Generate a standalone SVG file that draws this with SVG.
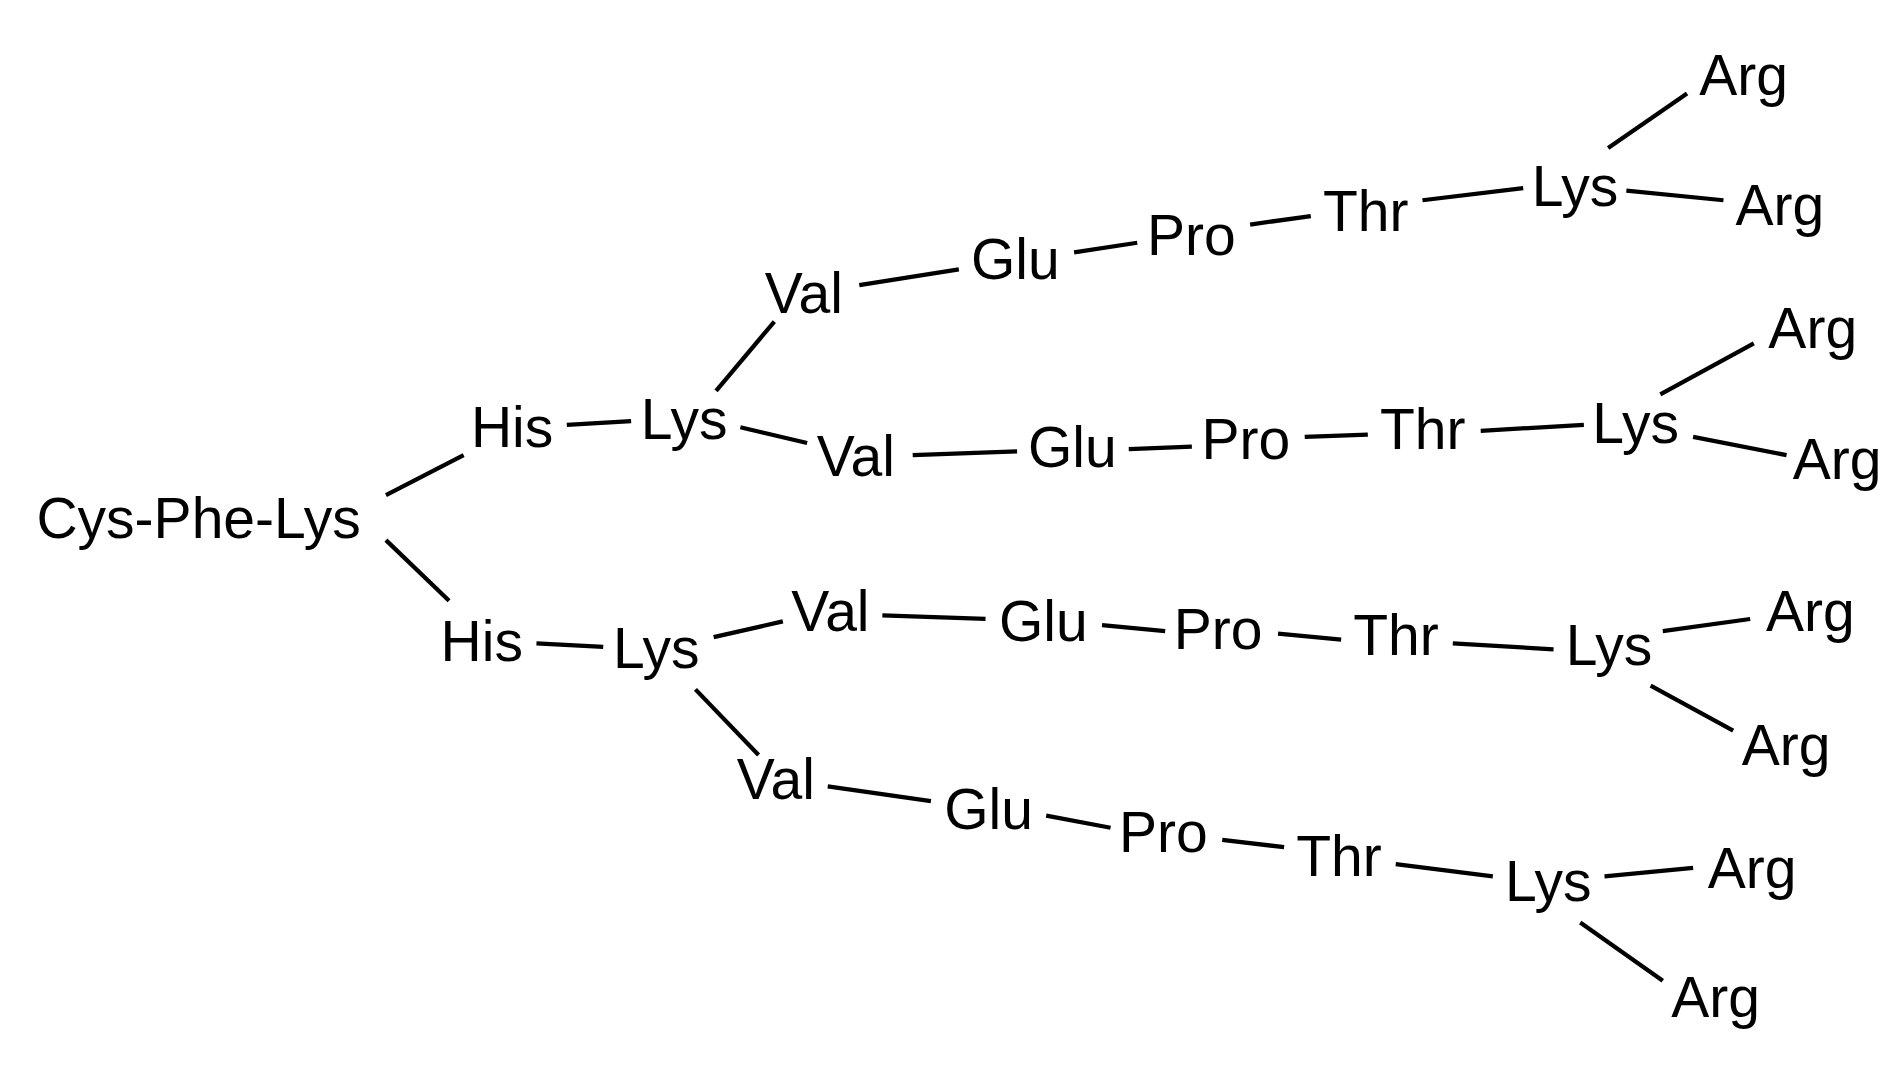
<svg xmlns="http://www.w3.org/2000/svg" width="1903" height="1065" viewBox="0 0 1903 1065">
<style>
text{font-family:"Liberation Sans",Arial,sans-serif;font-size:47px;fill:#000}
line{stroke:#000;stroke-width:3.5;stroke-linecap:butt}
</style>
<rect width="1903" height="1065" fill="#fff"/>
<g transform="scale(1.2137)">
<g id="connectors">
<line x1="318" y1="408" x2="382" y2="375"/><line x1="318" y1="445" x2="370" y2="495"/>
<line x1="467" y1="350" x2="520" y2="347"/><line x1="442" y1="530" x2="497" y2="533"/>
<line x1="590" y1="322" x2="638" y2="265"/><line x1="610" y1="352" x2="665" y2="365"/>
<line x1="588" y1="525" x2="645" y2="512"/><line x1="573" y1="568" x2="625" y2="622"/>
<line x1="708" y1="235" x2="790" y2="222"/><line x1="885" y1="208" x2="937" y2="200"/><line x1="1030" y1="185" x2="1080" y2="178"/><line x1="1172" y1="165" x2="1255" y2="155"/><line x1="1340" y1="157" x2="1420" y2="165"/><line x1="1325" y1="122" x2="1390" y2="77"/>
<line x1="752" y1="375" x2="838" y2="372"/><line x1="930" y1="370" x2="982" y2="368"/><line x1="1075" y1="360" x2="1127" y2="358"/><line x1="1220" y1="355" x2="1305" y2="350"/><line x1="1368" y1="325" x2="1445" y2="283"/><line x1="1395" y1="360" x2="1472" y2="375"/>
<line x1="727" y1="507" x2="812" y2="510"/><line x1="908" y1="515" x2="960" y2="520"/><line x1="1053" y1="522" x2="1105" y2="527"/><line x1="1197" y1="530" x2="1280" y2="535"/><line x1="1370" y1="520" x2="1442" y2="510"/><line x1="1360" y1="565" x2="1428" y2="602"/>
<line x1="682" y1="648" x2="767" y2="660"/><line x1="862" y1="672" x2="915" y2="682"/><line x1="1007" y1="692" x2="1058" y2="698"/><line x1="1150" y1="712" x2="1230" y2="722"/><line x1="1322" y1="722" x2="1395" y2="715"/><line x1="1302" y1="760" x2="1370" y2="808"/>
</g>
<g id="n-core"><text x="30" y="443">Cys-Phe-Lys</text></g>
<g id="n-his1"><text x="388" y="368">His</text></g>
<g id="n-his2"><text x="363" y="545">His</text></g>
<g id="n-lys1"><text x="528" y="362">Lys</text></g>
<g id="n-lys2"><text x="505" y="550">Lys</text></g>
<g id="b1">
<text x="630" y="258">Val</text><text x="800" y="230">Glu</text><text x="945" y="210">Pro</text><text x="1090" y="190">Thr</text><text x="1262" y="170">Lys</text><text x="1400" y="78">Arg</text><text x="1430" y="185">Arg</text>
</g>
<g id="b2">
<text x="673" y="392">Val</text><text x="847" y="385">Glu</text><text x="990" y="378">Pro</text><text x="1137" y="370">Thr</text><text x="1312" y="365">Lys</text><text x="1457" y="287">Arg</text><text x="1477" y="395">Arg</text>
</g>
<g id="b3">
<text x="652" y="520">Val</text><text x="823" y="528">Glu</text><text x="967" y="535">Pro</text><text x="1115" y="540">Thr</text><text x="1290" y="548">Lys</text><text x="1455" y="520">Arg</text><text x="1435" y="630">Arg</text>
</g>
<g id="b4">
<text x="607" y="658">Val</text><text x="778" y="683">Glu</text><text x="922" y="702">Pro</text><text x="1068" y="722">Thr</text><text x="1240" y="742">Lys</text><text x="1407" y="732">Arg</text><text x="1377" y="838">Arg</text>
</g>
</g>
</svg>
